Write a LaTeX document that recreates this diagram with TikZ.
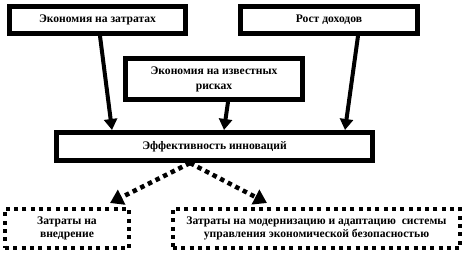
\documentclass[tikz,border=0pt]{standalone}
\usepackage{fontspec}
\setmainfont{Liberation Serif}
\usetikzlibrary{calc,arrows.meta}
\begin{document}
\begin{tikzpicture}[x=1pt,y=-1pt,
  solidbox/.style={draw=black,line width=5pt,fill=white,inner sep=0pt,align=center,
    font=\fontsize{11.6}{15}\selectfont\bfseries},
  dotbox/.style={draw=black,line width=4pt,dash pattern=on 4pt off 4.3pt,fill=white,inner sep=0pt,align=center,
    font=\fontsize{11.6}{13.5}\selectfont\bfseries},
  solidarrow/.style={line width=4pt,-{Triangle[length=11pt,width=13pt]}},
  dotarrow/.style={line width=4.5pt,dash pattern=on 4.5pt off 4pt,-{Triangle[length=13pt,width=16pt]}}]
\useasboundingbox (0,0) rectangle (469,267);
\node[solidbox,minimum width=176pt,minimum height=27pt] (b1) at (97.5,20) {Экономия на затратах};
\node[solidbox,minimum width=177pt,minimum height=27pt] (b2) at (329,20) {Рост доходов};
\node[solidbox,minimum width=177pt,minimum height=41pt] (b3) at (214,79) {Экономия на известных\\рисках};
\node[solidbox,minimum width=316pt,minimum height=28pt] (b4) at (214.5,146.5) {Эффективность инноваций};
\node[dotbox,minimum width=124pt,minimum height=39pt] (b5) at (67,228.5) {Затраты на\\внедрение};
\node[dotbox,minimum width=287pt,minimum height=39pt] (b6) at (316.5,228.5) {Затраты на модернизацию и адаптацию\ \ системы\\управления экономической безопасностью};
\draw[solidarrow] ($(b1.south)+(2.5,0)$) -- ($(b4.north)+(-102.5,0)$);
\draw[solidarrow] ($(b3.south)+(14,0)$) -- ($(b4.north)+(9.5,0)$);
\draw[solidarrow] ($(b2.south)+(29,0)$) -- ($(b4.north)+(130.5,0)$);
\draw[dotarrow] ($(b4.south)+(-24.5,0)$) -- ($(b5.north)+(43,-4)$);
\draw[dotarrow] ($(b4.south)+(-24.5,0)$) -- ($(b6.north)+(-49.5,-4)$);
\end{tikzpicture}
\end{document}
